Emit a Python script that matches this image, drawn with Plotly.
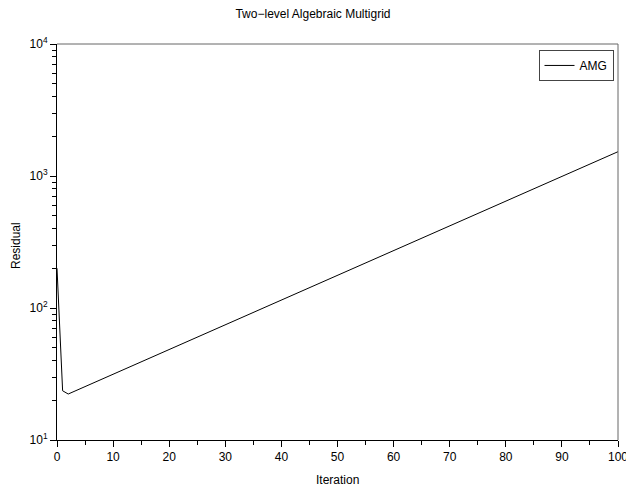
import plotly.graph_objects as go

# Residual history of the two-level AMG solver
iterations = [0, 1, 2, 10, 20, 30, 40, 50, 60, 70, 80, 90, 100]
residuals = [200, 23.6, 22.3, 31.5, 48.4, 74.5, 115, 177, 272, 419, 644, 991, 1528]

y_tick_vals = [10, 100, 1000, 10000]
y_tick_text = ["10<sup>1</sup>", "10<sup>2</sup>", "10<sup>3</sup>", "10<sup>4</sup>"]

font = "Liberation Sans, Arial, Helvetica, sans-serif"

fig = go.Figure()
fig.add_trace(go.Scatter(
    x=iterations, y=residuals, mode="lines", name="AMG",
    line=dict(color="black", width=1),
))

fig.update_layout(
    width=626, height=490,
    margin=dict(l=57, r=8, t=44, b=50, autoexpand=False),
    paper_bgcolor="white", plot_bgcolor="white",
    font=dict(family=font, size=12, color="black"),
    title=dict(text="Two\u2212level Algebraic Multigrid", x=0.5, xanchor="center",
               y=0.972, yanchor="middle", font=dict(size=12, family=font, color="black")),
    showlegend=True,
    legend=dict(x=0.992, xanchor="right", y=0.985, yanchor="top",
                bordercolor="#444", borderwidth=1, bgcolor="white",
                font=dict(size=12, family=font)),
    xaxis=dict(
        range=[0, 100], tickmode="linear", tick0=0, dtick=10,
        ticks="outside", ticklen=6, tickcolor="black",
        ticklabeloverflow="allow", automargin=False,
        showline=True, linecolor="black", linewidth=1, mirror=False,
        showgrid=False, zeroline=False,
        minor=dict(ticks="outside", ticklen=4, dtick=5, tickcolor="black", showgrid=False),
        tickfont=dict(size=12),
    ),
    yaxis=dict(
        type="log", range=[1, 4], automargin=False,
        tickmode="array", tickvals=y_tick_vals, ticktext=y_tick_text,
        ticks="outside", ticklen=6, tickcolor="black",
        showline=True, linecolor="black", linewidth=1, mirror=False,
        showgrid=False, zeroline=False,
        minor=dict(ticks="outside", ticklen=4, tickcolor="black", showgrid=False,
                   tickmode="array",
                   tickvals=[m * 10 ** k for k in range(1, 4) for m in range(2, 10)]),
        tickfont=dict(size=12),
    ),
)

# Axis titles placed as annotations in paper space
fig.add_annotation(text="Iteration", xref="paper", yref="paper", x=0.5, y=-0.1,
                   xanchor="center", yanchor="middle", showarrow=False,
                   font=dict(size=12, family=font))
fig.add_annotation(text="Residual", xref="paper", yref="paper", x=-0.073, y=0.49,
                   xanchor="center", yanchor="middle", showarrow=False, textangle=-90,
                   font=dict(size=12, family=font))

# Top and right frame lines in grey
fig.add_shape(type="line", xref="paper", yref="paper", x0=0, x1=1, y0=1, y1=1,
              line=dict(color="#666", width=1))
fig.add_shape(type="line", xref="paper", yref="paper", x0=1, x1=1, y0=0, y1=1,
              line=dict(color="#666", width=1))

fig.write_html("out.html")
